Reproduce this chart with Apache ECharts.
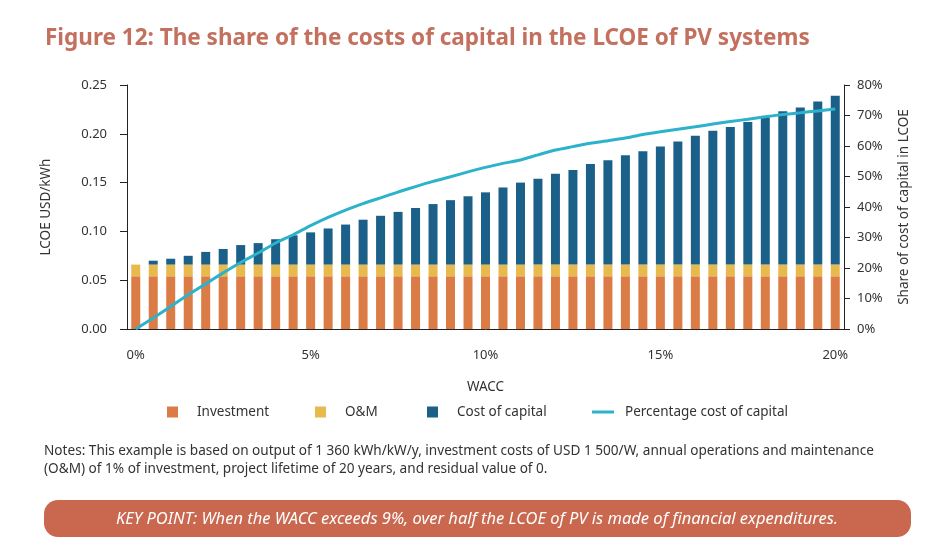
<!DOCTYPE html>
<html>
<head>
<meta charset="utf-8">
<script src="https://cdn.jsdelivr.net/npm/echarts@6/dist/echarts.min.js"></script>
<style>
  html, body { margin: 0; padding: 0; background: #fff; }
  #chart { width: 939px; height: 554px; }
</style>
</head>
<body>
<div id="chart"></div>
<script>
// WACC categories, in percent
const wacc = [0, 0.5, 1, 1.5, 2, 2.5, 3, 3.5, 4, 4.5, 5, 5.5, 6, 6.5, 7, 7.5, 8, 8.5, 9, 9.5,
  10, 10.5, 11, 11.5, 12, 12.5, 13, 13.5, 14, 14.5, 15, 15.5, 16, 16.5, 17, 17.5, 18, 18.5, 19, 19.5, 20];

// LCOE components, USD/kWh
const investment = [0.054, 0.054, 0.054, 0.054, 0.054, 0.054, 0.054, 0.054, 0.054, 0.054, 0.054,
  0.054, 0.054, 0.054, 0.054, 0.054, 0.054, 0.054, 0.054, 0.054, 0.054,
  0.054, 0.054, 0.054, 0.054, 0.054, 0.054, 0.054, 0.054, 0.054, 0.054,
  0.054, 0.054, 0.054, 0.054, 0.054, 0.054, 0.054, 0.054, 0.054, 0.054];
const om = [0.012, 0.012, 0.012, 0.012, 0.012, 0.012, 0.012, 0.012, 0.012, 0.012, 0.012,
  0.012, 0.012, 0.012, 0.012, 0.012, 0.012, 0.012, 0.012, 0.012, 0.012,
  0.012, 0.012, 0.012, 0.012, 0.012, 0.012, 0.012, 0.012, 0.012, 0.012,
  0.012, 0.012, 0.012, 0.012, 0.012, 0.012, 0.012, 0.012, 0.012, 0.012];
const costOfCapital = [0, 0.004, 0.006, 0.009, 0.013, 0.016, 0.020, 0.022, 0.026, 0.030, 0.033,
  0.037, 0.041, 0.046, 0.050, 0.054, 0.058, 0.062, 0.066, 0.070, 0.074,
  0.079, 0.084, 0.088, 0.093, 0.097, 0.103, 0.107, 0.112, 0.116, 0.121,
  0.126, 0.132, 0.137, 0.141, 0.146, 0.151, 0.157, 0.161, 0.167, 0.173];

// Share of cost of capital in LCOE (fraction)
const shareCostOfCapital = [0, 0.036, 0.074, 0.112, 0.148, 0.184, 0.218, 0.249, 0.282, 0.309, 0.339,
  0.366, 0.390, 0.411, 0.430, 0.449, 0.467, 0.484, 0.499, 0.515, 0.530,
  0.543, 0.554, 0.571, 0.587, 0.598, 0.609, 0.617, 0.626, 0.638, 0.647,
  0.655, 0.663, 0.672, 0.680, 0.688, 0.696, 0.703, 0.709, 0.715, 0.721];

const seriesNames = ['Investment', 'O&M', 'Cost of capital', 'Percentage cost of capital'];
const noteLines = [
  'Notes: This example is based on output of 1 360 kWh/kW/y, investment costs of USD 1 500/W, annual operations and maintenance',
  '(O&M) of 1% of investment, project lifetime of 20 years, and residual value of 0.'
];
const keyPoint = 'KEY POINT: When the WACC exceeds 9%, over half the LCOE of PV is made of financial expenditures.';

const font = 'Noto Sans';
const axisColor = '#222';
const textColor = '#333';

const chart = echarts.init(document.getElementById('chart'));

// one legend per item so they sit where the figure puts them
const legendLeft = [167, 315, 427, 592];
const legends = seriesNames.map((name, i) => ({
  data: [name],
  left: legendLeft[i],
  top: 405,
  padding: 0,
  icon: 'rect',
  itemWidth: i === 3 ? 22 : 11,
  itemHeight: i === 3 ? 3 : 11,
  textStyle: {
    fontFamily: font,
    fontSize: 13.5,
    color: textColor,
    padding: [0, 0, 0, i === 3 ? 6 : 14]
  }
}));

const option = {
  animation: false,
  textStyle: { fontFamily: font },
  title: {
    text: 'Figure 12: The share of the costs of capital in the LCOE of PV systems',
    left: 40,
    top: 22,
    textStyle: {
      fontFamily: font,
      fontSize: 22.5,
      fontWeight: 'bold',
      color: '#C4705F'
    }
  },
  legend: legends,
  grid: {
    left: 127,
    right: 95,
    top: 85,
    bottom: 225
  },
  xAxis: {
    type: 'category',
    data: wacc,
    name: 'WACC',
    nameLocation: 'middle',
    nameGap: 51,
    nameTextStyle: { fontFamily: font, fontSize: 13.5, color: textColor },
    axisLine: { lineStyle: { color: axisColor } },
    axisTick: { interval: 0, length: 7, lineStyle: { color: axisColor } },
    axisLabel: {
      interval: (index) => index % 10 === 0,
      formatter: (v) => v + '%',
      margin: 20,
      fontFamily: font,
      fontSize: 13,
      color: textColor
    }
  },
  yAxis: [{
    type: 'value',
    min: 0,
    max: 0.25,
    interval: 0.05,
    name: 'LCOE USD/kWh',
    nameLocation: 'middle',
    nameGap: 74,
    nameTextStyle: { fontFamily: font, fontSize: 13.5, color: textColor },
    axisLine: { show: true, lineStyle: { color: axisColor } },
    axisTick: { show: true, length: 7, lineStyle: { color: axisColor } },
    splitLine: { show: false },
    axisLabel: {
      formatter: (v) => v.toFixed(2),
      margin: 20,
      fontFamily: font,
      fontSize: 13,
      color: textColor
    }
  }, {
    type: 'value',
    min: 0,
    max: 0.8,
    interval: 0.1,
    name: 'Share of cost of capital in LCOE',
    nameLocation: 'middle',
    nameGap: 53,
    nameTextStyle: { fontFamily: font, fontSize: 13.5, color: textColor },
    axisLine: { show: true, lineStyle: { color: axisColor } },
    axisTick: { show: true, length: 6, lineStyle: { color: axisColor } },
    splitLine: { show: false },
    axisLabel: {
      formatter: (v) => Math.round(v * 100) + '%',
      margin: 13,
      fontFamily: font,
      fontSize: 13,
      color: textColor
    }
  }],
  series: [{
    name: seriesNames[0],
    type: 'bar',
    stack: 'lcoe',
    barWidth: 9,
    itemStyle: { color: '#DB7B45' },
    data: investment
  }, {
    name: seriesNames[1],
    type: 'bar',
    stack: 'lcoe',
    barWidth: 9,
    itemStyle: { color: '#E8B94C' },
    data: om
  }, {
    name: seriesNames[2],
    type: 'bar',
    stack: 'lcoe',
    barWidth: 9,
    itemStyle: { color: '#1B6088' },
    data: costOfCapital
  }, {
    name: seriesNames[3],
    type: 'line',
    yAxisIndex: 1,
    symbol: 'none',
    smooth: 0.2,
    lineStyle: { color: '#2CB2CB', width: 3 },
    itemStyle: { color: '#2CB2CB' },
    data: shareCostOfCapital
  }],
  graphic: [{
    type: 'text',
    left: 44,
    top: 442,
    style: {
      text: noteLines.join('\n'),
      fontFamily: font,
      fontSize: 13.6,
      lineHeight: 18,
      fill: textColor
    }
  }, {
    type: 'group',
    left: 44,
    top: 500,
    children: [{
      type: 'rect',
      shape: { x: 0, y: 0, width: 867, height: 37, r: 14 },
      style: { fill: '#C9674F' }
    }, {
      type: 'text',
      x: 433,
      y: 19,
      style: {
        text: keyPoint,
        fontFamily: font,
        fontSize: 16.5,
        fontStyle: 'italic',
        fill: '#fff',
        align: 'center',
        verticalAlign: 'middle'
      }
    }]
  }]
};

chart.setOption(option);
</script>
</body>
</html>
